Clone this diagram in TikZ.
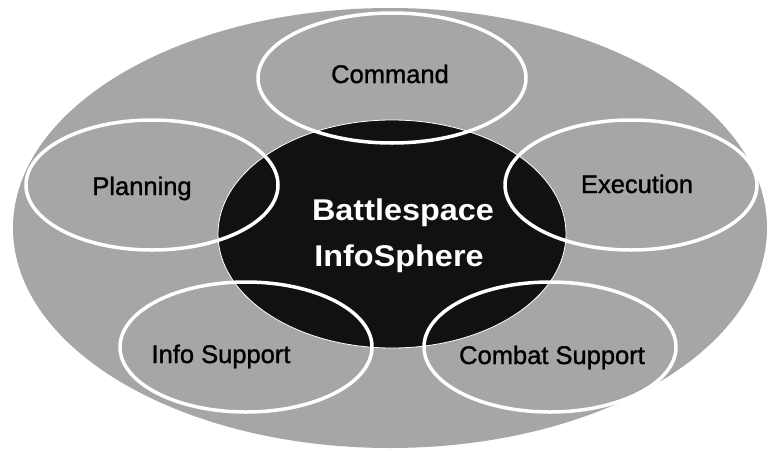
\documentclass[tikz,border=0pt]{standalone}
\usepackage{fontspec}
\setmainfont{Liberation Sans}
\newfontfamily\lblfont[FakeBold=1.2]{Liberation Sans}
\usetikzlibrary{shapes.geometric}
\definecolor{bggray}{RGB}{166,166,166}
\definecolor{coreblack}{RGB}{17,17,17}
\begin{document}
\begin{tikzpicture}[x=1pt,y=-1pt,
  ring/.style={ellipse, draw=white, line width=3.5pt, inner sep=0pt, minimum width=252pt, minimum height=130pt},
  lbl/.style={anchor=base, font=\lblfont\fontsize{25.5}{30}\selectfont, text=black, inner sep=0pt},
  core/.style={anchor=base, font=\fontsize{30}{36}\selectfont\bfseries, text=white, inner sep=0pt, xscale=1.08, transform shape}]
\useasboundingbox (0,0) rectangle (768,450);
\node[ellipse, fill=bggray, inner sep=0pt, minimum width=754pt, minimum height=440pt] (outer) at (390,228) {};
\node[ellipse, fill=coreblack, draw=white, line width=0.8pt, inner sep=0pt, minimum width=348pt, minimum height=228pt] (bis) at (392,234) {};
\node[ring, minimum width=268pt] (command) at (392,78) {};
\node[ring] (planning) at (152,185) {};
\node[ring] (execution) at (631,185) {};
\node[ring] (info) at (246,347) {};
\node[ring] (combat) at (550,347) {};
\node[lbl] (tcommand) at (390,83) {Command};
\node[lbl] (tplanning) at (142,195) {Planning};
\node[lbl] (texecution) at (637,193) {Execution};
\node[lbl] (tinfo) at (221,363) {Info Support};
\node[lbl] (tcombat) at (552,364) {Combat Support};
\node[core] (tbattle) at (403,220.5) {Battlespace};
\node[core] (tsphere) at (399,266) {InfoSphere};
\end{tikzpicture}
\end{document}
